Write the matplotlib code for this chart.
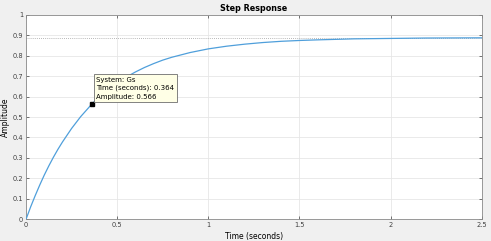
import numpy as np
import matplotlib.pyplot as plt

# step response
t = [0, 0.025, 0.05, 0.075, 0.1, 0.125, 0.15, 0.175, 0.2, 0.25, 0.3, 0.364,
     0.4, 0.45, 0.5, 0.55, 0.6, 0.65, 0.7, 0.75, 0.8, 0.9, 1.0, 1.1, 1.2,
     1.3, 1.4, 1.5, 1.6, 1.8, 2.0, 2.2, 2.5]
amp = [0, 0.060, 0.115, 0.167, 0.216, 0.261, 0.303, 0.342, 0.378, 0.444,
       0.502, 0.566, 0.596, 0.634, 0.667, 0.695, 0.720, 0.742, 0.761, 0.778,
       0.792, 0.815, 0.833, 0.846, 0.856, 0.864, 0.870, 0.874, 0.877, 0.882,
       0.884, 0.886, 0.887]
final_value = 0.888
tip_t = 0.364
tip_amp = 0.566
tip_text = "System: Gs\nTime (seconds): 0.364\nAmplitude: 0.566"

fig = plt.figure(figsize=(4.91, 2.41), dpi=100, facecolor="#f0f0f0")
ax = fig.add_axes([0.053, 0.090, 0.928, 0.849])
ax.set_facecolor("white")

ax.plot(t, amp, color="#4f9fdb", lw=0.9, zorder=3)
ax.axhline(final_value, color="#a0a0a0", lw=0.6, ls=(0, (1, 1.5)), zorder=2)

ax.set_xlim(0, 2.5)
ax.set_ylim(0, 1)
ax.set_xticks(np.arange(0, 2.51, 0.5))
ax.set_xticklabels(["0", "0.5", "1", "1.5", "2", "2.5"])
ax.set_yticks(np.arange(0, 1.01, 0.1))
ax.set_yticklabels(["0", "0.1", "0.2", "0.3", "0.4", "0.5", "0.6", "0.7", "0.8", "0.9", "1"])
ax.grid(True, color="#e6e6e6", lw=0.6)
ax.set_axisbelow(True)

ax.tick_params(direction="in", length=2.5, width=0.5, labelsize=4.8,
               colors="#404040", top=True, right=True, pad=2)
for s in ax.spines.values():
    s.set_color("#8a8a8a")
    s.set_linewidth(0.6)

ax.set_title("Step Response", fontsize=5.8, fontweight="bold", pad=3)
ax.set_xlabel("Time (seconds)", fontsize=5.5, labelpad=3)
ax.set_ylabel("Amplitude", fontsize=5.5)
ax.yaxis.set_label_coords(-0.036, 0.5)

# data tip
ax.plot([tip_t], [tip_amp], marker="s", ms=3.2, color="black", zorder=5)
ax.text(0.385, 0.585, tip_text, fontsize=5, va="bottom", ha="left",
        linespacing=1.45, zorder=6,
        bbox=dict(boxstyle="square,pad=0.35", fc="#ffffe6", ec="#6e6e6e", lw=0.6))

fig.savefig("out.png", dpi=100, facecolor=fig.get_facecolor())
